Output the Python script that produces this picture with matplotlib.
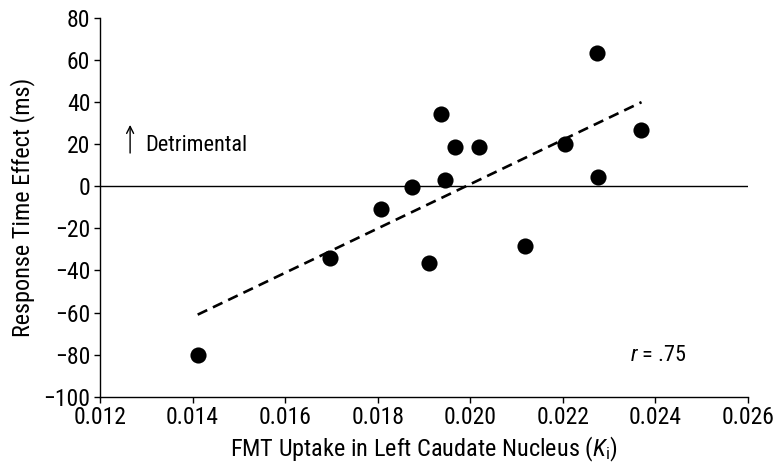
import numpy as np
import matplotlib
matplotlib.use("Agg")
import matplotlib.pyplot as plt

# condensed sans, like the journal figure
fam = 'Roboto Condensed'
plt.rcParams['font.family'] = [fam, 'Archivo Narrow', 'Liberation Sans', 'DejaVu Sans']
plt.rcParams['mathtext.fontset'] = 'custom'
plt.rcParams['mathtext.rm'] = fam
plt.rcParams['mathtext.it'] = fam + ':italic'

# data
uptake = [0.01411, 0.01697, 0.01808, 0.01875, 0.01911, 0.01937, 0.01945,
          0.01968, 0.02019, 0.02118, 0.02204, 0.02274, 0.02276, 0.02368]
rt_effect = [-80, -34, -11, -0.3, -36.4, 34.2, 2.9,
             18.7, 18.7, -28.5, 20.3, 63.3, 4.4, 26.6]
fit_x = [0.01411, 0.02370]
fit_y = [-61, 40]
xticks = [0.012, 0.014, 0.016, 0.018, 0.020, 0.022, 0.024, 0.026]
yticks = [-100, -80, -60, -40, -20, 0, 20, 40, 60, 80]

fig = plt.figure(figsize=(7.76, 4.76), dpi=100)
ax = fig.add_axes([0.1289, 0.1666, 0.835, 0.7956])

ax.axhline(0, color='black', lw=1.0, zorder=1)
ax.plot(fit_x, fit_y, color='black', lw=1.9, dashes=(4, 2.4), zorder=2)
ax.scatter(uptake, rt_effect, s=135, color='black', zorder=3, linewidths=0)

ax.set_xlim(0.012, 0.026)
ax.set_ylim(-100, 80)
ax.set_xticks(xticks)
ax.set_xticklabels(['%.3f' % v for v in xticks])
ax.set_yticks(yticks)
ax.set_yticklabels([str(v).replace('-', '\u2212') for v in yticks])
ax.tick_params(labelsize=17, length=4, width=1, direction='out', pad=3)

for s in ['top', 'right']:
    ax.spines[s].set_visible(False)
for s in ['left', 'bottom']:
    ax.spines[s].set_linewidth(1.0)

ax.set_xlabel(r'FMT Uptake in Left Caudate Nucleus ($\mathit{K}_\mathrm{i}$)', fontsize=17.5, labelpad=4)
ax.set_ylabel('Response Time Effect (ms)', fontsize=17.5, labelpad=6)

ax.annotate('', xy=(0.01265, 30.5), xytext=(0.01265, 14.5),
            arrowprops=dict(arrowstyle='->,head_length=0.5,head_width=0.25', lw=1.0, color='black'))
ax.text(0.01298, 19.5, 'Detrimental', fontsize=16, va='center', ha='left')
ax.text(0.02345, -80.5, r'$\mathit{r}$ = .75', fontsize=16, va='center', ha='left')

fig.savefig('out.png', dpi=100)
